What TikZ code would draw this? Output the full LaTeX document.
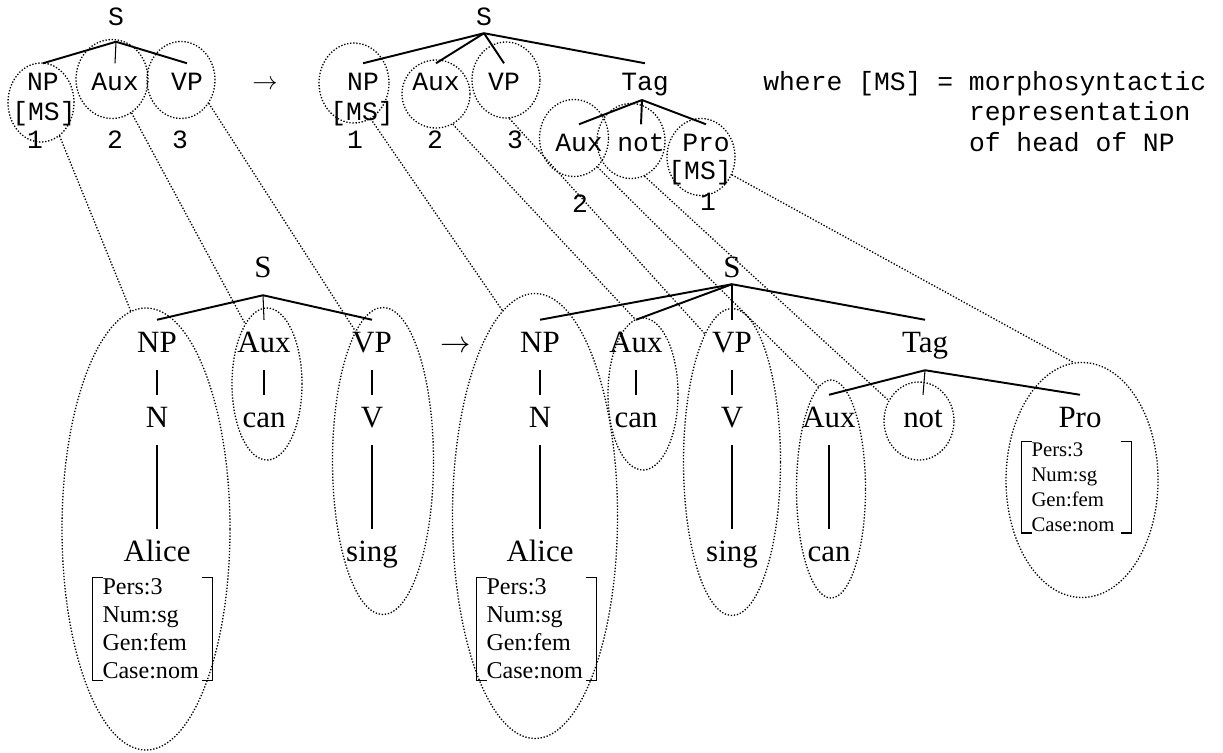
\documentclass[tikz,border=0pt]{standalone}
\usepackage{fontspec}
\setmainfont{Liberation Serif}
\setmonofont{Liberation Mono}
\usetikzlibrary{shapes.geometric}

\begin{document}
\begin{tikzpicture}[
  mcat/.style={font=\ttfamily\fontsize{15}{17.6}\selectfont, text height=9pt, text depth=2.25pt,
               inner xsep=0pt, inner ysep=0.23cm},
  cat/.style={font=\fontsize{17.6}{20}\selectfont, text height=12.3pt, text depth=3.5pt,
              inner xsep=0pt, inner ysep=0.22cm},
  fs/.style={align=left, inner xsep=0.19cm, inner ysep=0.02cm},
  fsl/.style={fs, font=\fontsize{13.7}{16}\selectfont, text width=2.0cm},
  fsr/.style={fs, font=\fontsize{11.8}{14.2}\selectfont, text width=1.8cm},
  grp/.style={ellipse, draw, line width=0.75pt, dash pattern=on 0.75pt off 1pt, inner sep=0pt},
  lnk/.style={line width=0.75pt, dash pattern=on 0.75pt off 1pt},
  branch/.style={line width=1.1pt},
  vl/.style={line width=0.6pt},
  brk/.style={line width=0.8pt},
]
\useasboundingbox (0,0) rectangle (24.46,-15.04);

% ================= TOP RULE, LEFT (explicit coords, cm) =================
\node[mcat]                     (tlS)     at (2.32,-0.40)  {S};
\node[mcat]                     (tlNP)    at (0.86,-1.70)  {NP};
\node[mcat]                     (tlNPms)  at (0.88,-2.30)  {[MS]};
\node[mcat]                     (tlAux)   at (2.30,-1.70)  {Aux};
\node[mcat]                     (tlVP)    at (3.74,-1.70)  {VP};
\node[mcat]                     (tlI1)    at (0.70,-2.86)  {1};
\node[mcat]                     (tlI2)    at (2.30,-2.86)  {2};
\node[mcat]                     (tlI3)    at (3.60,-2.86)  {3};

\node[font=\fontsize{15}{18}\selectfont] (tArr) at (5.30,-1.70) {$\rightarrow$};

% ================= TOP RULE, RIGHT =================
\node[mcat, inner ysep=0.06cm]  (trS)     at (9.68,-0.40)  {S};
\node[mcat]                     (trNP)    at (7.26,-1.70)  {NP};
\node[mcat]                     (trNPms)  at (7.24,-2.30)  {[MS]};
\node[mcat]                     (trAux)   at (8.72,-1.70)  {Aux};
\node[mcat]                     (trVP)    at (10.08,-1.70) {VP};
\node[mcat]                     (trTag)   at (12.90,-1.70) {Tag};
\coordinate                     (trTagb)  at (12.84,-2.00);
\node[mcat]                     (trAux2)  at (11.58,-2.92) {Aux};
\node[mcat]                     (trNot)   at (12.82,-2.92) {not};
\node[mcat]                     (trPro)   at (14.12,-2.92) {Pro};
\node[mcat]                     (trProms) at (14.00,-3.48) {[MS]};
\node[mcat]                     (trI1)    at (7.10,-2.86)  {1};
\node[mcat]                     (trI2)    at (8.70,-2.86)  {2};
\node[mcat]                     (trI3)    at (10.30,-2.86) {3};
\node[mcat]                     (trI2b)   at (11.60,-4.14) {2};
\node[mcat]                     (trI1b)   at (14.16,-4.10) {1};

\node[anchor=base west, inner sep=0pt, font=\ttfamily\fontsize{15}{17.6}\selectfont] (note) at (15.26,-1.80)
  {\begin{tabular}[t]{@{}l@{\ }l@{}}where [MS] = & morphosyntactic\\ & representation\\ & of head of NP\end{tabular}};

% ================= BOTTOM, LEFT =================
\node[cat]                      (blS)     at (5.26,-5.40)  {S};
\node[cat]                      (blNP)    at (3.14,-6.90)  {NP};
\node[cat]                      (blN)     at (3.14,-8.40)  {N};
\node[cat]                      (blAlice) at (3.14,-11.08) {Alice};
\node[fsl]                      (blFS)    at (3.05,-12.58) {Pers:3\\Num:sg\\Gen:fem\\Case:nom};
\node[cat]                      (blAux)   at (5.28,-6.90)  {Aux};
\node[cat]                      (blCan)   at (5.28,-8.40)  {can};
\node[cat]                      (blVP)    at (7.44,-6.90)  {VP};
\node[cat]                      (blV)     at (7.44,-8.40)  {V};
\node[cat]                      (blSing)  at (7.44,-11.08) {sing};

\node[font=\fontsize{17.6}{20}\selectfont] (bArr) at (9.12,-6.94) {$\rightarrow$};

% ================= BOTTOM, RIGHT =================
\node[cat, inner ysep=0pt]      (brS)     at (14.64,-5.40) {S};
\node[cat]                      (brNP)    at (10.80,-6.90) {NP};
\node[cat]                      (brN)     at (10.80,-8.40) {N};
\node[cat]                      (brAlice) at (10.80,-11.08){Alice};
\node[fsl]                      (brFS)    at (10.73,-12.58){Pers:3\\Num:sg\\Gen:fem\\Case:nom};
\node[cat]                      (brAux)   at (12.72,-6.90) {Aux};
\node[cat]                      (brCan)   at (12.72,-8.40) {can};
\node[cat]                      (brVP)    at (14.64,-6.90) {VP};
\node[cat]                      (brV)     at (14.64,-8.40) {V};
\node[cat]                      (brSing)  at (14.64,-11.08){sing};
\node[cat]                      (brTag)   at (18.50,-6.90) {Tag};
\node[cat]                      (brAux2)  at (16.58,-8.40) {Aux};
\node[cat]                      (brCan2)  at (16.58,-11.08){can};
\node[cat]                      (brNot)   at (18.46,-8.40) {not};
\node[cat]                      (brPro)   at (21.60,-8.40) {Pro};
\node[fsr]                      (brProFS) at (21.53,-9.74) {Pers:3\\Num:sg\\Gen:fem\\Case:nom};

% ================= GROUPS (dotted) =================
\node[grp, minimum width=1.32cm, minimum height=1.58cm] (tlNPg)   at (0.82,-2.05)  {};
\node[grp, minimum width=1.44cm, minimum height=1.58cm] (tlAuxg)  at (2.24,-1.58)  {};
\node[grp, minimum width=1.36cm, minimum height=1.54cm] (tlVPg)   at (3.62,-1.60)  {};
\node[grp, minimum width=1.40cm, minimum height=1.60cm] (trNPg)   at (7.08,-1.66)  {};
\node[grp, minimum width=1.36cm, minimum height=1.36cm] (trAuxg)  at (8.72,-1.88)  {};
\node[grp, minimum width=1.36cm, minimum height=1.52cm] (trVPg)   at (10.12,-1.60) {};
\node[grp, minimum width=1.38cm, minimum height=1.54cm] (trAux2g) at (11.48,-2.76) {};
\node[grp, minimum width=1.36cm, minimum height=1.50cm] (trNotg)  at (12.62,-2.82) {};
\node[grp, minimum width=1.36cm, minimum height=1.54cm] (trProg)  at (14.02,-3.14) {};

\node[grp, minimum width=3.36cm, minimum height=8.84cm] (blNPg)   at (2.92,-10.58) {};
\node[grp, minimum width=1.40cm, minimum height=3.04cm] (blAuxg)  at (5.34,-7.68)  {};
\node[grp, minimum width=2.02cm, minimum height=6.14cm] (blVPg)   at (7.66,-9.22)  {};
\node[grp, minimum width=3.30cm, minimum height=8.90cm] (brNPg)   at (10.70,-10.32){};
\node[grp, minimum width=1.40cm, minimum height=3.04cm] (brAuxg)  at (12.86,-7.88) {};
\node[grp, minimum width=1.94cm, minimum height=6.14cm] (brVPg)   at (14.64,-9.24) {};
\node[grp, minimum width=1.38cm, minimum height=4.36cm] (brAux2g) at (16.62,-9.78) {};
\node[grp, minimum width=1.40cm, minimum height=1.56cm] (brNotg)  at (18.38,-8.42) {};
\node[grp, minimum width=3.04cm, minimum height=4.70cm] (brProg)  at (21.64,-9.60) {};

% ================= EDGES =================
\draw[branch] (tlS.south) -- (tlNP.north);
\draw[vl]     (tlS.south) -- (tlAux.north);
\draw[branch] (tlS.south) -- (tlVP.north);

\draw[branch] (trS.south) -- (trNP.north);
\draw[branch] (trS.south) -- (trAux.north);
\draw[branch] (trS.south) -- (trVP.north);
\draw[branch] (trS.south) -- (trTag.north);
\draw[branch] (trTagb) -- (trAux2.north);
\draw[branch] (trTagb) -- (trNot.north);
\draw[branch] (trTagb) -- (trPro.north);

\draw[branch] (blS.south) -- (blNP.north);
\draw[vl]     (blS.south) -- (blAux.north);
\draw[branch] (blS.south) -- (blVP.north);
\draw[vl]     (blNP) -- (blN);
\draw[branch] (blN) -- (blAlice);
\draw[vl]     (blAux) -- (blCan);
\draw[vl]     (blVP) -- (blV);
\draw[branch] (blV) -- (blSing);

\draw[branch] (brS.south) -- (brNP.north);
\draw[branch] (brS.south) -- (brAux.north);
\draw[vl]     (brS.south) -- (brVP.north);
\draw[branch] (brS.south) -- (brTag.north);
\draw[branch] (brTag.south) -- (brAux2.north);
\draw[vl]     (brTag.south) -- (brNot.north);
\draw[branch] (brTag.south) -- (brPro.north);
\draw[vl]     (brNP) -- (brN);
\draw[branch] (brN) -- (brAlice);
\draw[vl]     (brAux) -- (brCan);
\draw[vl]     (brVP) -- (brV);
\draw[branch] (brV) -- (brSing);
\draw[branch] (brAux2) -- (brCan2);

% feature brackets
\foreach \f in {blFS,brFS,brProFS}{
  \draw[brk] ([xshift=2mm]\f.north west) -| (\f.south west) -- ([xshift=2mm]\f.south west);
  \draw[brk] ([xshift=-2mm]\f.north east) -| (\f.south east) -- ([xshift=-2mm]\f.south east);
}

% correspondence links
\draw[lnk] (tlNPg.-61)  -- (blNPg.94);
\draw[lnk] (tlAuxg.-60) -- (blAuxg.110);
\draw[lnk] (tlVPg.-40)  -- (blVPg.102);
\draw[lnk] (trNPg.-65)  -- (brNPg.99);
\draw[lnk] (trAuxg.-61) -- (brAuxg.96);
\draw[lnk] (trVPg.-85)  -- (brVPg.102);
\draw[lnk] (trAux2g.-51)-- (brAux2g.97);
\draw[lnk] (trNotg.-69) -- (brNotg.146);
\draw[lnk] (trProg.-30) -- (brProg.94);

\end{tikzpicture}
\end{document}
